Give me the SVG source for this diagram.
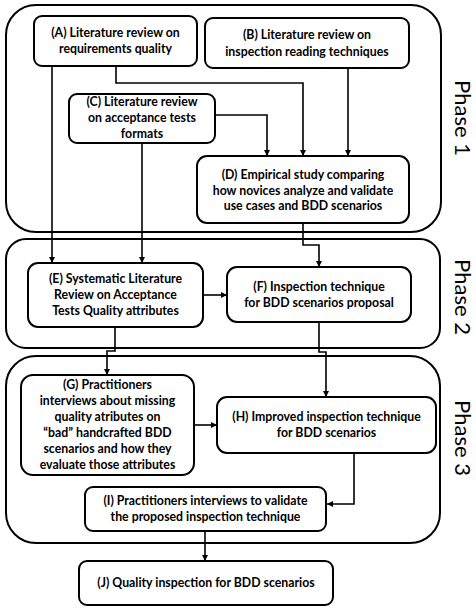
<svg xmlns="http://www.w3.org/2000/svg" width="476" height="611" viewBox="0 0 476 611">
<style>
.phase{fill:none;stroke:#000;stroke-width:2}
.node{fill:#fff;stroke:#000;stroke-width:2}
.t{font-family:Lato,"Liberation Sans",sans-serif;font-weight:bold;font-size:12.3px;text-anchor:middle;fill:#000}
.pl{font-family:Lato,"Liberation Sans",sans-serif;font-size:22px;text-anchor:middle;fill:#000}
.c{fill:none;stroke:#000;stroke-width:1.6}
</style>
<defs>
<marker id="ah" viewBox="0 0 10 10" refX="10" refY="5" markerWidth="6" markerHeight="6" orient="auto" markerUnits="userSpaceOnUse"><path d="M0,0 L10,5 L0,10 z" fill="#000"/></marker>
</defs>
<rect width="476" height="611" fill="#fff"/>
<g id="phase1"><rect class="phase" x="6" y="5" width="435" height="227" rx="30"/><text class="pl" transform="translate(455,118) rotate(90)">Phase 1</text></g>
<g id="phase2"><rect class="phase" x="6" y="239" width="434" height="109" rx="20"/><text class="pl" transform="translate(455,297) rotate(90)">Phase 2</text></g>
<g id="phase3"><rect class="phase" x="6" y="356" width="434" height="187" rx="30"/><text class="pl" transform="translate(455,438) rotate(90)">Phase 3</text></g>
<g id="connectors">
<path class="c" d="M52,66 V263" marker-end="url(#ah)"/>
<path class="c" d="M116,66 V83 H303 V156" marker-end="url(#ah)"/>
<path class="c" d="M348,68 V156" marker-end="url(#ah)"/>
<path class="c" d="M215,115 H267 V156" marker-end="url(#ah)"/>
<path class="c" d="M142,143 V263" marker-end="url(#ah)"/>
<path class="c" d="M303,223 V245 H319 V267" marker-end="url(#ah)"/>
<path class="c" d="M203,295 H227" marker-end="url(#ah)"/>
<path class="c" d="M115,327 V351 H107 V375" marker-end="url(#ah)"/>
<path class="c" d="M319,322 V352 H326 V397" marker-end="url(#ah)"/>
<path class="c" d="M194,425 H217" marker-end="url(#ah)"/>
<path class="c" d="M354,453 V504 H327" marker-end="url(#ah)"/>
<path class="c" d="M205,531 V561" marker-end="url(#ah)"/>
</g>
<g id="A"><rect class="node" x="34" y="16" width="163" height="50" rx="8"/><text class="t" x="115.5" y="37">(A) Literature review on</text><text class="t" x="115.5" y="53">requirements quality</text></g>
<g id="B"><rect class="node" x="205" y="18" width="204" height="50" rx="8"/><text class="t" x="307" y="39">(B) Literature review on</text><text class="t" x="307" y="56">inspection reading techniques</text></g>
<g id="C"><rect class="node" x="69" y="94" width="146" height="49" rx="8"/><text class="t" x="142" y="106">(C) Literature review</text><text class="t" x="142" y="122">on acceptance tests</text><text class="t" x="142" y="138">formats</text></g>
<g id="D"><rect class="node" x="197" y="156" width="212" height="67" rx="10"/><text class="t" x="303" y="179">(D) Empirical study comparing</text><text class="t" x="303" y="195">how novices analyze and validate</text><text class="t" x="303" y="210">use cases and BDD scenarios</text></g>
<g id="E"><rect class="node" x="28" y="263" width="175" height="64" rx="10"/><text class="t" x="115.5" y="283">(E) Systematic Literature</text><text class="t" x="115.5" y="299">Review on Acceptance</text><text class="t" x="115.5" y="315">Tests Quality attributes</text></g>
<g id="F"><rect class="node" x="227" y="267" width="184" height="55" rx="10"/><text class="t" x="319" y="291">(F) Inspection technique</text><text class="t" x="319" y="307">for BDD scenarios proposal</text></g>
<g id="G"><rect class="node" x="21" y="375" width="173" height="100" rx="12"/><text class="t" x="107.5" y="389">(G) Practitioners</text><text class="t" x="107.5" y="405">interviews about missing</text><text class="t" x="107.5" y="421">quality atributes on</text><text class="t" x="107.5" y="437">“bad” handcrafted BDD</text><text class="t" x="107.5" y="453">scenarios and how they</text><text class="t" x="107.5" y="469">evaluate those attributes</text></g>
<g id="H"><rect class="node" x="217" y="397" width="219" height="56" rx="10"/><text class="t" x="326.5" y="421">(H) Improved inspection technique</text><text class="t" x="326.5" y="437">for BDD scenarios</text></g>
<g id="I"><rect class="node" x="85" y="487" width="241" height="44" rx="8"/><text class="t" x="205.5" y="505">(I) Practitioners interviews to validate</text><text class="t" x="205.5" y="521">the proposed inspection technique</text></g>
<g id="J"><rect class="node" x="79" y="561" width="254" height="44" rx="8"/><text class="t" x="206" y="587">(J) Quality inspection for BDD scenarios</text></g>
</svg>
